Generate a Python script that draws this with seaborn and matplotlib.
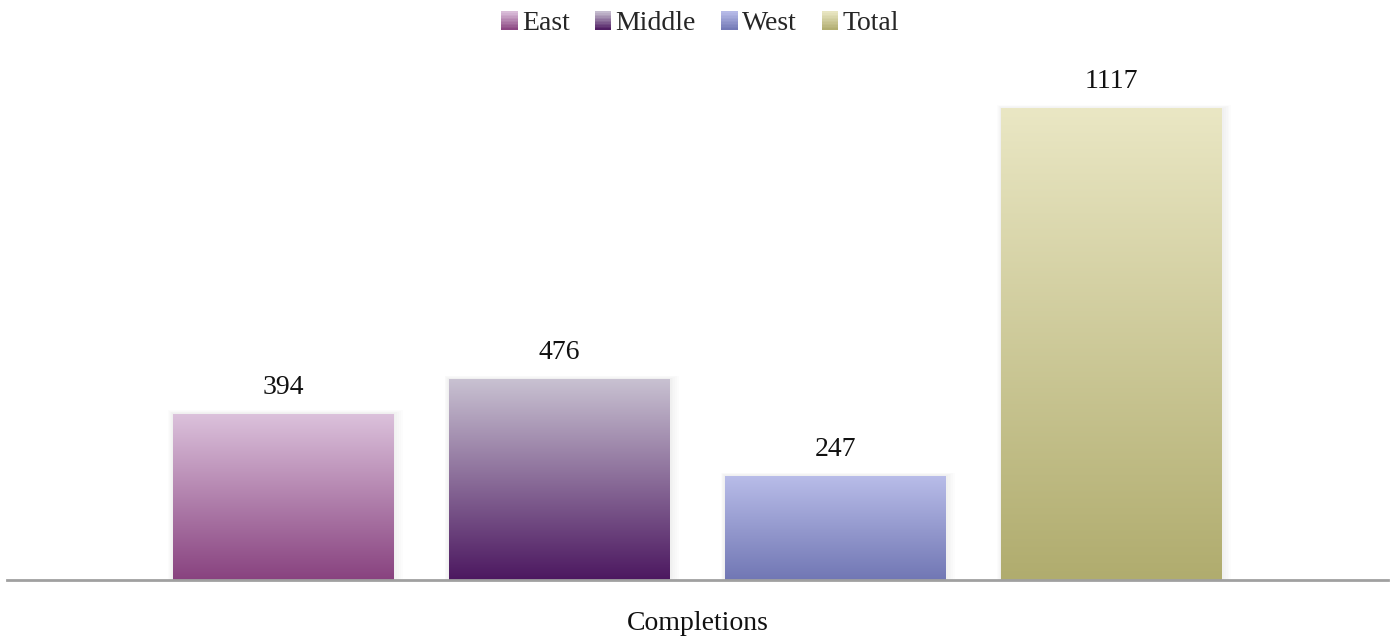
import numpy as np
import pandas as pd
import matplotlib
matplotlib.use("Agg")
import matplotlib.pyplot as plt
from matplotlib.colors import LinearSegmentedColormap
from matplotlib.patches import Patch, Rectangle
from matplotlib.legend_handler import HandlerBase
import seaborn as sns

# --- data ---
regions = ["East", "Middle", "West", "Total"]
completions = [394, 476, 247, 1117]
category = "Completions"

# gradient colours (top, bottom) for each bar
top_colors = ["#dcc2dc", "#c9c2d2", "#b9bde9", "#eae7c4"]
bottom_colors = ["#88427f", "#4c1860", "#7177b4", "#b0ac6e"]

df = pd.DataFrame({"cat": [category] * len(regions), "region": regions, "value": completions})

sns.set_theme(style="white")
plt.rcParams["font.family"] = ["Liberation Serif", "DejaVu Serif"]
FS = 20

fig = plt.figure(figsize=(13.92, 6.41), dpi=100)
ax = fig.add_axes([7 / 1392, 61 / 641, 1381 / 1392, 549 / 641])

cmaps = [LinearSegmentedColormap.from_list("g", [b, t]) for t, b in zip(top_colors, bottom_colors)]
mid_colors = [cm(0.5) for cm in cmaps]

sns.barplot(data=df, x="cat", y="value", hue="region", hue_order=regions,
            palette=mid_colors, width=0.8, gap=0.2, legend=False, ax=ax,
            linewidth=0)

ax.set_ylim(0, 1300)
ax.set_xlim(-0.5, 0.5)

# gradient fill clipped to each bar
grad = np.linspace(0, 1, 256).reshape(-1, 1)
for bar, cm, v in zip(ax.patches, cmaps, completions):
    x0 = bar.get_x()
    w = bar.get_width()
    h = bar.get_height()
    # soft shadow
    for k in range(1, 6):
        ax.add_patch(Rectangle((x0 - w * 0.004 * k, 0), w * (1 + 0.012 * k), h + 1.5 * k,
                               color="black", alpha=0.012, linewidth=0, zorder=1))
    bar.set_facecolor("none")
    bar.set_zorder(3)
    im = ax.imshow(grad, cmap=cm, origin="lower", aspect="auto",
                   extent=[x0, x0 + w, 0, h], zorder=2)
    im.set_clip_path(bar)
    ax.text(x0 + w / 2, h + 33, f"{v}", ha="center", va="bottom",
            fontsize=FS, color="#111111")

for s in ["top", "right", "left"]:
    ax.spines[s].set_visible(False)
ax.spines["bottom"].set_color("#a0a0a0")
ax.spines["bottom"].set_linewidth(2)
ax.set_yticks([])
ax.set_xticks([])
ax.set_xlabel("")
ax.set_ylabel("")
ax.set_xlim(-0.5, 0.5)

fig.text(698 / 1392, 1 - 623 / 641, category, ha="center", va="center",
         fontsize=FS, color="#111111")


class GradientHandler(HandlerBase):
    def create_artists(self, legend, orig_handle, xdescent, ydescent, width, height, fontsize, trans):
        cm = orig_handle.cmap
        n = 12
        arts = []
        for i in range(n):
            arts.append(Rectangle((-xdescent, -ydescent + height * i / n), width, height / n + 0.3,
                                  facecolor=cm((i + 0.5) / n), edgecolor="none", transform=trans))
        return arts


handles = []
for cm in cmaps:
    p = Patch()
    p.cmap = cm
    handles.append(p)

fig.legend(handles, regions, loc="center", bbox_to_anchor=(700 / 1392, 1 - 24 / 641),
           ncol=4, frameon=False, fontsize=FS, handlelength=0.6, handleheight=0.6,
           handletextpad=0.15, columnspacing=0.9,
           handler_map={Patch: GradientHandler()})

fig.savefig("out.png", dpi=100)
